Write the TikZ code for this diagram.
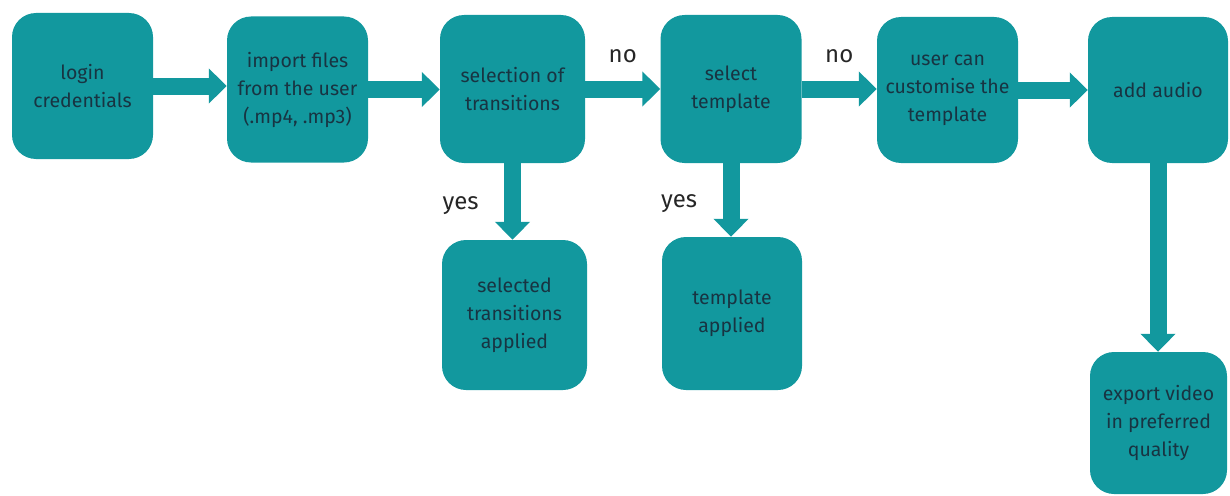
\documentclass[tikz,border=0pt]{standalone}
\usepackage{fontspec}
\setmainfont{Fira Sans}
\usepackage{tikz}
\usetikzlibrary{arrows.meta}
\definecolor{tealbox}{RGB}{18,152,158}
\definecolor{ink}{RGB}{24,52,66}
\newcommand{\boxfont}{\fontsize{19.5}{28}\selectfont}
\newcommand{\lblfont}{\fontsize{24}{28}\selectfont}

\begin{document}
\begin{tikzpicture}[
  x=1pt,y=-1pt,
  box/.style={rectangle,rounded corners=24pt,fill=tealbox,text=ink,align=center,
    minimum width=141pt,minimum height=146pt,inner sep=1pt,font=\boxfont},
  flow/.style={tealbox,line width=17pt,-{Triangle[length=18pt,width=34pt]}},
  lbl/.style={font=\lblfont,text=black!85}
]
  \useasboundingbox (0,0) rectangle (1230,495);

  \node[box] (login)    at (82.5,86)  {login\\credentials};
  \node[box] (import)   at (297.5,89.5) {import files\\from the user\\(.mp4, .mp3)};
  \node[box,minimum width=145pt,minimum height=148pt] (trans) at (512.5,89) {selection of\\transitions};
  \node[box,minimum height=148pt] (templ)   at (731,89)    {select\\template};
  \node[box] (custom)   at (947.5,90)   {user can\\customise the\\template};
  \node[box,minimum width=140pt] (audio) at (1158,90) {add audio};
  \node[box,minimum width=145pt,minimum height=150pt] (transok) at (514.5,315) {selected\\transitions\\applied};
  \node[box,minimum width=140pt,minimum height=153pt] (templok) at (732,313.5) {template\\applied};
  \node[box,minimum width=137pt,minimum height=142pt] (export) at (1158.5,423) {export video\\in preferred\\quality};

  \draw[flow] (login.east) -- (login.east -| import.west);
  \draw[flow] (import.east) -- (import.east -| trans.west);
  \draw[flow] (trans.east) -- node[lbl,above=14pt]{no} (trans.east -| templ.west);
  \draw[flow] (templ.east) -- node[lbl,above=14pt]{no} (templ.east -| custom.west);
  \draw[flow] (custom.east) -- (custom.east -| audio.west);
  \draw[flow] (trans.south) -- node[lbl,left=22pt,yshift=-4pt]{yes} (trans.south |- transok.north);
  \draw[flow] (templ.south) -- node[lbl,left=22pt,yshift=-4pt]{yes} (templ.south |- templok.north);
  \draw[flow] (audio.south) -- (audio.south |- export.north);
\end{tikzpicture}
\end{document}
